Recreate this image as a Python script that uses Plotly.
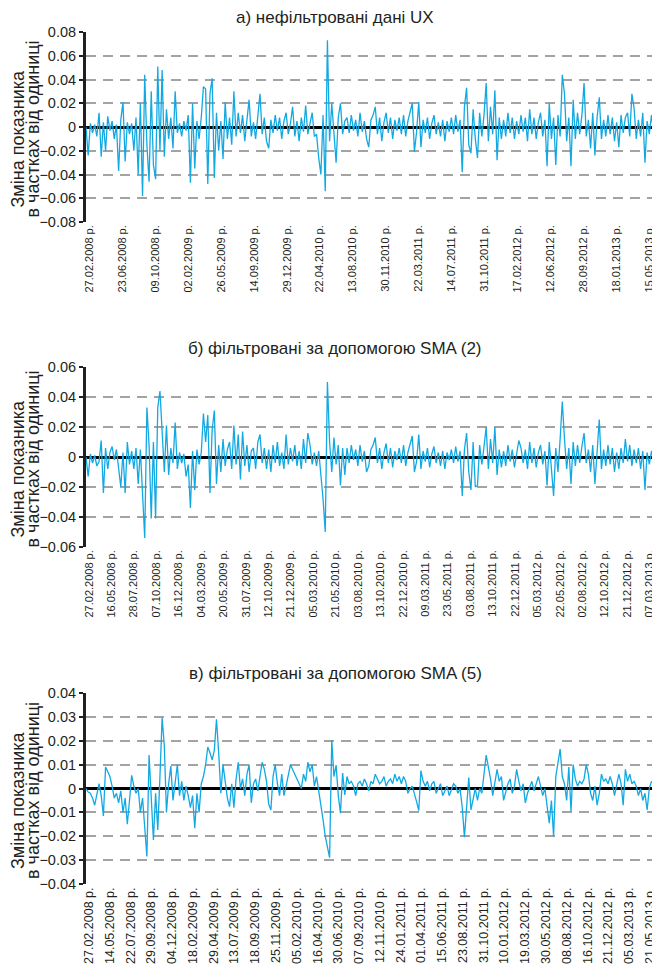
import plotly.graph_objects as go

# ---------------- data (values in thousandths of a unit) ----------------
ux_raw_permille = [
    0, -24, 3, -5, 2, -8, 12, -25, 4, -20, 9, -3,
    5, -10, 2, -37, 6, 21, -29, 4, -6, 3, -20, 8,
    -40, 20, -58, 44, -15, -46, 30, -32, -44, 51, -20, 48,
    -25, 15, -10, 8, -18, 30, -5, 3, -8, 5, -3, 10,
    -47, 20, -35, 5, -10, 8, 34, 32, -48, 28, 41, -43,
    12, -20, 5, -27, 21, -10, 8, -15, 30, -8, 12, -5,
    10, -12, 6, 23, -8, 4, -10, 12, 28, -6, 8, -12,
    -18, 6, -5, 10, -3, 8, -10, 5, 12, -6, 3, 17,
    -8, 5, -12, 8, -4, 18, -6, 3, 12, -8, -6, -26,
    -40, 10, -54, 73, -12, 20, -8, -30, 8, 20, -6, 5,
    8, -5, 10, -3, 6, -8, 12, -4, 5, -10, -17, 6,
    10, 17, -6, 8, -12, 4, 12, -5, 8, -10, 6, -3,
    8, -6, 10, -8, 5, 12, 20, -21, -4, 21, -17, 6,
    -5, 8, -10, 3, 10, -6, 4, -8, 6, -12, 5, -4,
    8, -6, 10, -4, 6, -38, 17, 33, -15, -22, 15, -10,
    -26, 12, -8, 10, 37, -12, 17, -6, 31, -28, 8, -10,
    6, -8, 12, -5, 8, -10, 5, -6, 10, -4, 8, -12,
    15, -6, 8, -10, 4, 12, -8, 6, -33, 20, -10, 8,
    -32, 10, -8, 44, 28, -12, 8, -33, 23, -10, 12, -6,
    10, 37, -8, 6, -18, 12, -24, 8, 25, -10, 6, -8,
    10, -6, 8, -12, 4, -17, 10, -5, 8, 12, -8, 28,
    16, -10, 6, -8, 12, -30, 5, -6, 10, -4, 8, 3,
]

sma2_permille = [
    0, -13, 2, -4, 1, -6, -3, 11, -24, 6, -8, 3,
    7, -2, 5, -8, -20, 3, -24, 10, -5, 4, -8, 6,
    -18, 5, -30, -54, 33, 8, -41, 10, -41, 33, 44, 20,
    -10, 21, -12, 6, -4, 23, -8, 3, -4, 2, -13, -5,
    -34, 4, -22, 5, -5, 3, 29, 10, 28, -24, 18, 31,
    -18, 8, -10, 12, -6, 5, 10, -8, 21, -5, 15, -15,
    17, -6, 8, -10, 4, 6, -8, 10, 15, -4, 6, -8,
    5, -10, 8, -4, 10, -6, 3, -8, 15, -5, 6, -3,
    8, -6, 4, -8, 12, -4, 16, 8, -5, 3, -6, 4,
    -10, -28, -50, 50, 10, -10, 13, -5, 8, -19, 6, -12,
    6, -4, 8, -2, 5, -6, 8, -3, 4, -10, -6, 5,
    8, 13, -4, 6, -8, 3, 9, -4, 6, -7, 4, -2,
    6, -4, 8, -6, 3, 8, 14, -10, -3, 15, -8, 4,
    -3, 6, -7, 2, 7, -4, 3, -6, 4, -8, 3, -2,
    5, -4, 7, -3, 4, -26, 5, 16, -10, -22, 10, -20,
    -19, 8, -5, 7, 20, -8, 12, -4, 20, -12, 5, -7,
    4, -6, 8, -3, 5, -7, 3, 11, 6, -4, 5, -8,
    10, -4, 6, -7, 3, 8, -5, 4, -19, 10, -8, -26,
    6, -10, 12, 37, 12, -8, 6, -18, 10, -6, 8, -4,
    7, 16, -4, 5, -10, 8, -18, 6, 25, -8, 5, -6,
    8, -5, 6, -10, 3, -8, 6, -4, 12, -3, 8, -6,
    5, -4, 6, -8, 4, -22, 3, -5, 4, -3, 11, 2,
]

sma5_permille = [
    0, -1.5, -2, -4, -7, -3, 2, -3, -11.5, 9, 7, 5,
    1, -4, -2, -6, -1, -10, -4, -15, -5, 5.5, 1, -2,
    0, -10, -4, -18.6, -28.5, 14, -5, -21.6, -2, -17.4, 5, 29.6,
    18, -10, 2, 9.4, -5, 4, 10, -3, 3, -5, 1, -3,
    -8, -3, -16.6, -2, -10, 2, 5, 10, 17.4, 15, 12, 16,
    29, 15, -2, 10, 3, -4, -7.6, 2, -8, 4, 11, 0,
    4, -3, 6, 10, -6, 2, 4, -1, 5, 11, 8, 3,
    -6.5, -9, 5, 10, 2, -3, 6, -3, 1, 5, 10, 8,
    6, 4, 2, 0, 6, 3, 11, 7, 10, 1, 5, -1,
    -5, -13, -20, -25, -29, 20.3, 5, 9.8, -3, -10.3, 6.5, -2.7,
    5, 2, 3, 1, -3, 2, 3, 1, 4, 2, -1, 3,
    2, 6, 4, 2, 3, 5, 1, 3, 4, 2, 6, 3,
    5, 2, 5, 3, -2, 0, 1, -2, -5.5, -9.3, 7.5, 3,
    1, 3, -1, 2, 3, -2, 0, 2, -3, -1, 1, -3,
    0, 2, 1, -2, 0, -8, -20.4, -7, 4.6, -9, -5, 0,
    -5, 0, -2, 6, 14, 9, 4, -3, 2, 8, 3, 5,
    -5, -1, 2, 4, -2, 1, 8, 3, -1, 2, -6, -2,
    1, 3, -1, 2, 5, 1, -3, 0, -7, -14.5, -5, -20.2,
    5, 10, 16.5, 5, 2, -5, 9, -9.6, 10, 4, 1, 3,
    2, 4, 10, 6, -2, -5, 1, -7, -2, 6, 3, 4,
    2, 5, 2, -3, 1, 6, 2, -7, 8, 3, 6, 2,
    3, 1, -3, 0, -5, -2, -9, 0, 3, 2, 1, 5.7,
]

dates_a = ["27.02.2008", "23.06.2008", "09.10.2008", "02.02.2009", "26.05.2009",
           "14.09.2009", "29.12.2009", "22.04.2010", "13.08.2010", "30.11.2010",
           "22.03.2011", "14.07.2011", "31.10.2011", "17.02.2012", "12.06.2012",
           "28.09.2012", "18.01.2013", "15.05.2013"]
dates_b = ["27.02.2008", "16.05.2008", "28.07.2008", "07.10.2008", "16.12.2008",
           "04.03.2009", "20.05.2009", "31.07.2009", "12.10.2009", "21.12.2009",
           "05.03.2010", "21.05.2010", "03.08.2010", "13.10.2010", "22.12.2010",
           "09.03.2011", "23.05.2011", "03.08.2011", "13.10.2011", "22.12.2011",
           "05.03.2012", "22.05.2012", "02.08.2012", "12.10.2012", "21.12.2012",
           "07.03.2013"]
dates_c = ["27.02.2008", "14.05.2008", "22.07.2008", "29.09.2008", "04.12.2008",
           "18.02.2009", "29.04.2009", "13.07.2009", "18.09.2009", "25.11.2009",
           "05.02.2010", "16.04.2010", "30.06.2010", "07.09.2010", "12.11.2010",
           "24.01.2011", "01.04.2011", "15.06.2011", "23.08.2011", "31.10.2011",
           "10.01.2012", "19.03.2012", "30.05.2012", "08.08.2012", "16.10.2012",
           "21.12.2012", "05.03.2013", "21.05.2013"]

ytick_a = [-0.08, -0.06, -0.04, -0.02, 0, 0.02, 0.04, 0.06, 0.08]
ytick_a_txt = ["\u22120.08", "\u22120.06", "\u22120.04", "\u22120.02", "0", "0.02", "0.04", "0.06", "0.08"]
ytick_b = [-0.06, -0.04, -0.02, 0, 0.02, 0.04, 0.06]
ytick_b_txt = ["\u22120.06", "\u22120.04", "\u22120.02", "0", "0.02", "0.04", "0.06"]
ytick_c = [-0.04, -0.03, -0.02, -0.01, 0, 0.01, 0.02, 0.03, 0.04]
ytick_c_txt = ["\u22120.04", "\u22120.03", "\u22120.02", "\u22120.01", "0", "0.01", "0.02", "0.03", "0.04"]

titles = ["а) нефільтровані дані UX",
          "б) фільтровані за допомогою SMA (2)",
          "в) фільтровані за допомогою SMA (5)"]
ytitle_lines = ["Зміна показника", "в частках від одиниці"]

# ---------------- figure ----------------
# the page body adds an 8 px offset, so the layout is given in page pixels
# and shifted back by that offset
OFF = 8
PAGE_W, PAGE_H = 660, 968
W, H = PAGE_W - OFF, PAGE_H - OFF
PLOT_L, PLOT_R = 86, 658                          # page pixels
ML, MR = PLOT_L - OFF, W - (PLOT_R - OFF)
PW = PLOT_R - PLOT_L
LINE = "#12A9E3"
FONT = "Liberation Sans, Arial, sans-serif"
TXT = "#231f20"

series = [ux_raw_permille, sma2_permille, sma5_permille]
labels = [dates_a, dates_b, dates_c]
yticks = [(ytick_a, ytick_a_txt), (ytick_b, ytick_b_txt), (ytick_c, ytick_c_txt)]
rows = [(32, 222), (367, 547), (693, 884)]       # plot top / bottom, page pixels
title_y = [18, 348, 673]
xlab_size = [11, 11, 12.5]
ytitle_x = [17.5, 32.5]                           # page pixels, centres of the two lines
ytitle_dy = [12, 2]                               # shift below panel centre (bottom-aligned lines)


def fy(py):
    return 1 - (py - OFF) / H


def fx(px):
    return (px - PLOT_L) / PW


fig = go.Figure()
layout = dict(
    width=W, height=H,
    margin=dict(l=ML, r=MR, t=0, b=0, autoexpand=False),
    paper_bgcolor="white", plot_bgcolor="white",
    showlegend=False,
    font=dict(family=FONT, color=TXT),
    annotations=[],
)

for k in range(3):
    vals = [v / 1000.0 for v in series[k]]
    n = len(vals)
    xs = list(range(n))
    sfx = "" if k == 0 else str(k + 1)
    fig.add_trace(go.Scatter(
        x=xs, y=vals, mode="lines",
        line=dict(color=LINE, width=1.3),
        xaxis="x" + sfx, yaxis="y" + sfx,
    ))
    labs = labels[k]
    t0, t1 = 1.4, (n - 1) - 3.8
    tv = [t0 + j * (t1 - t0) / (len(labs) - 1) for j in range(len(labs))]
    top, bot = rows[k]
    yv, yt = yticks[k]
    layout["xaxis" + sfx] = dict(
        domain=[0, 1], anchor="y" + sfx, range=[0, n - 1],
        showgrid=False, zeroline=False, showline=False, automargin=False,
        tickmode="array", tickvals=tv, ticktext=[d + " р." for d in labs],
        tickangle=-90, ticks="", ticklen=0,
        tickfont=dict(family=FONT, size=xlab_size[k], color=TXT),
    )
    layout["yaxis" + sfx] = dict(
        domain=[fy(bot), fy(top)], anchor="x" + sfx,
        range=[yv[0], yv[-1]], automargin=False,
        tickmode="array", tickvals=yv, ticktext=yt,
        showgrid=True, gridcolor="#a3a3a3", gridwidth=1.5, griddash="10px,7px",
        zeroline=True, zerolinecolor="#000000", zerolinewidth=2.6,
        showline=True, linecolor=TXT, linewidth=3,
        ticks="outside", ticklen=4, tickwidth=1.5, tickcolor=TXT,
        ticklabelstandoff=0,
        tickfont=dict(family=FONT, size=14.5, color=TXT),
    )
    layout["annotations"].append(dict(
        text=titles[k], xref="paper", yref="paper",
        x=fx(335), y=fy(title_y[k]),
        xanchor="center", yanchor="middle", showarrow=False,
        font=dict(family=FONT, size=17, color=TXT),
    ))
    for j, line_txt in enumerate(ytitle_lines):
        layout["annotations"].append(dict(
            text=line_txt, xref="paper", yref="paper",
            x=fx(ytitle_x[j]), y=fy((top + bot) / 2 + ytitle_dy[j]),
            xanchor="center", yanchor="middle", showarrow=False,
            textangle=-90,
            font=dict(family=FONT, size=18, color=TXT),
        ))

fig.update_layout(**layout)
fig.write_html("out.html")
